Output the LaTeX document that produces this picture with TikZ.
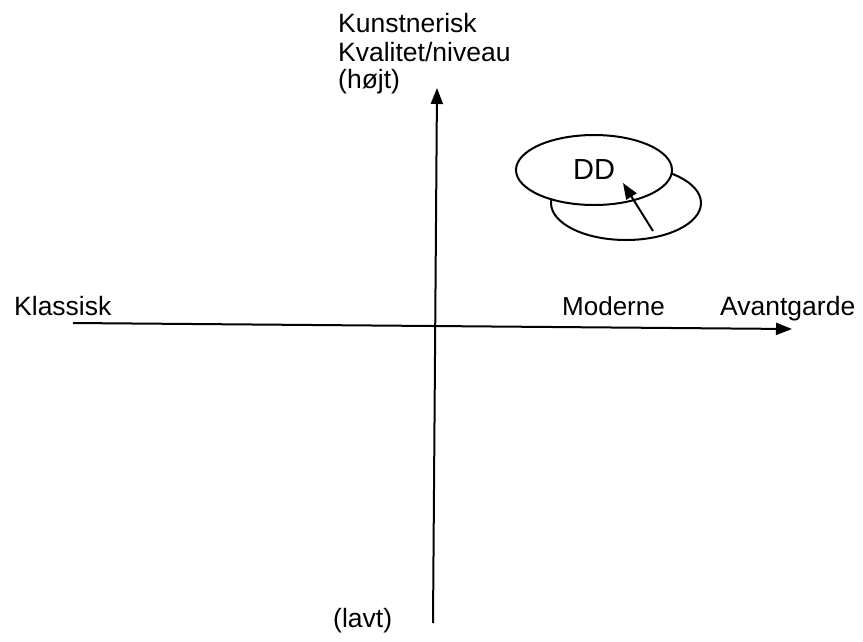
\documentclass[tikz,border=0pt]{standalone}
\usepackage{fontspec}
\setmainfont{Liberation Sans}
\usetikzlibrary{arrows.meta,shapes.geometric}
\begin{document}
\begin{tikzpicture}[x=1pt,y=-1pt,
  lbl/.style={inner sep=0pt,anchor=base west,font=\fontsize{26.5}{30}\selectfont},
  axis/.style={line width=2pt,-{Triangle[length=16pt,width=12pt]}},
  ring/.style={draw,line width=2pt,ellipse,inner sep=0pt}]
\useasboundingbox (0,0) rectangle (863,641);
% axes
\coordinate (xl) at (73,323);
\coordinate (xr) at (792,329);
\coordinate (yb) at (433,623);
\coordinate (yt) at (437,88);
\draw[axis] (xl) -- (xr);
\draw[axis] (yb) -- (yt);
% labels
\node[lbl] (k1) at (338,32) {Kunstnerisk};
\node[lbl] (k2) at (338,61) {Kvalitet/niveau};
\node[lbl] (k3) at (338,88) {(højt)};
\node[lbl] (kl) at (14,315) {Klassisk};
\node[lbl,font=\fontsize{26}{30}\selectfont] (mo) at (562,315) {Moderne};
\node[lbl] (av) at (720,315) {Avantgarde};
\node[lbl] (la) at (333,627) {(lavt)};
% ellipses
\node[ring,minimum width=150pt,minimum height=74pt] (e2) at (626,203) {};
\node[ring,fill=white,minimum width=156pt,minimum height=70pt,
      font=\fontsize{29}{32}\selectfont] (e1) at (594,170) {DD};
\coordinate (as) at (653,231);
\coordinate (ae) at (623,183);
\draw[line width=2pt,-{Triangle[length=16pt,width=12pt]}] (as) -- (ae);
\end{tikzpicture}
\end{document}
